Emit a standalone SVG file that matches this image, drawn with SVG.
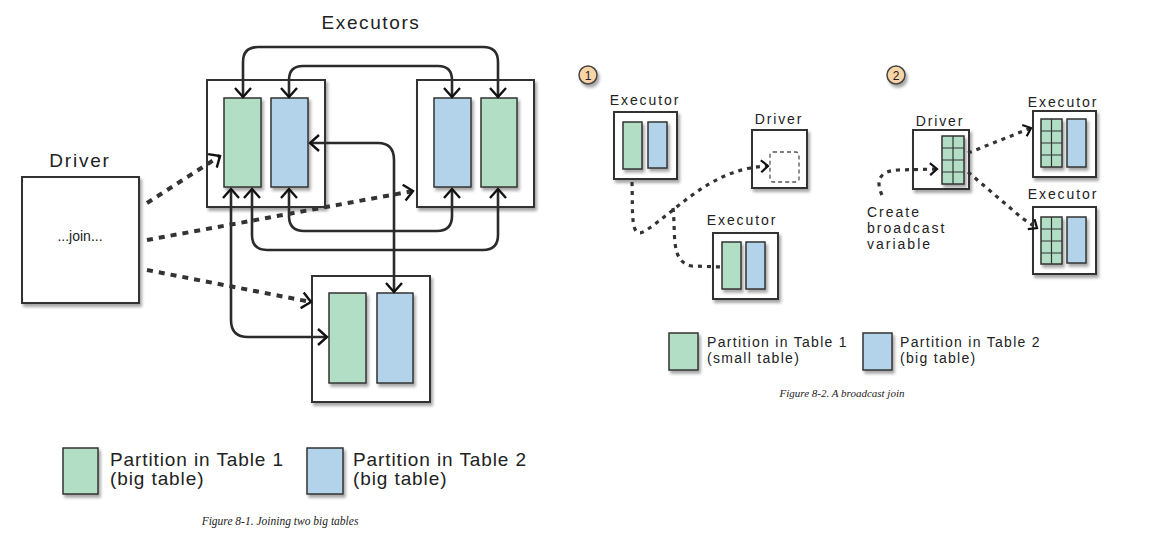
<svg xmlns="http://www.w3.org/2000/svg" width="1169" height="540" viewBox="0 0 1169 540">
<style>
  .box{fill:#fff;stroke:#333;stroke-width:2;filter:url(#sh)}
  .g{fill:#b3dec6;stroke:#333;stroke-width:1.5;filter:url(#sh)}
  .b{fill:#b2d3ea;stroke:#333;stroke-width:1.5;filter:url(#sh)}
  .gl{fill:none;stroke:#333;stroke-width:1.2}
  .sol{fill:none;stroke:#2b2b2b;stroke-width:2.6}
  .dot{fill:none;stroke:#333;stroke-width:4;stroke-dasharray:6 6}
  .dot2{fill:none;stroke:#333;stroke-width:3.2;stroke-dasharray:4 5}
  .t{font-family:"Liberation Sans","DejaVu Sans",sans-serif;fill:#222}
  .cap{font-family:"Liberation Serif",serif;font-style:italic;fill:#222}
  .num{fill:#f8d4a6;stroke:#444;stroke-width:1.5;filter:url(#sh)}
  .lab{font-size:14px;letter-spacing:1.9px}
</style>
<defs>
  <filter id="sh" x="-20%" y="-20%" width="150%" height="150%">
    <feDropShadow dx="2" dy="3" stdDeviation="1.8" flood-color="#000" flood-opacity="0.35"/>
  </filter>
  <marker id="ar" markerUnits="userSpaceOnUse" markerWidth="16" markerHeight="20" refX="10" refY="9" orient="auto-start-reverse">
    <path d="M1,1 L10,9 L1,17" fill="none" stroke="#111" stroke-width="2.4"/>
  </marker>
  <marker id="ar2" markerUnits="userSpaceOnUse" markerWidth="12" markerHeight="16" refX="8" refY="7" orient="auto">
    <path d="M1,1 L8,7 L1,13" fill="none" stroke="#111" stroke-width="2.2"/>
  </marker>
</defs>

<!-- ===== Figure 8-1 ===== -->
<text class="t" x="371" y="29" font-size="19" text-anchor="middle" letter-spacing="1.6">Executors</text>

<g id="driver1">
  <text class="t" x="80" y="167" font-size="19" text-anchor="middle" letter-spacing="1.8">Driver</text>
  <rect class="box" x="22" y="177" width="117" height="126"/>
  <text class="t" x="80" y="241" font-size="14" text-anchor="middle">...join...</text>
</g>

<g id="exec-a">
  <rect class="box" x="207" y="80" width="118" height="127"/>
  <rect class="g" x="224" y="98" width="37" height="89"/>
  <rect class="b" x="271" y="98" width="37" height="89"/>
</g>

<g id="exec-b">
  <rect class="box" x="417" y="80" width="117" height="127"/>
  <rect class="b" x="434" y="98" width="37" height="89"/>
  <rect class="g" x="481" y="98" width="36" height="89"/>
</g>

<g id="exec-c">
  <rect class="box" x="312" y="276" width="118" height="126"/>
  <rect class="g" x="329" y="293" width="37" height="90"/>
  <rect class="b" x="377" y="293" width="36" height="90"/>
</g>

<g id="connectors1">
  <path class="sol" d="M243,97 L243,62 Q243,47 258,47 L483,47 Q498,47 498,62 L498,97" marker-start="url(#ar)" marker-end="url(#ar)"/>
  <path class="sol" d="M289,97 L289,80 Q289,66 303,66 L438,66 Q452,66 452,80 L452,97" marker-start="url(#ar)" marker-end="url(#ar)"/>
  <path class="sol" d="M310,143 L378,143 Q394,143 394,160 L394,292" marker-start="url(#ar)" marker-end="url(#ar)"/>
  <path class="sol" d="M289,189 L289,216 Q289,231 304,231 L437,231 Q452,231 452,216 L452,189" marker-start="url(#ar)" marker-end="url(#ar)"/>
  <path class="sol" d="M252,189 L252,235 Q252,250 267,250 L483,250 Q498,250 498,235 L498,189" marker-start="url(#ar)" marker-end="url(#ar)"/>
  <path class="sol" d="M231,189 L231,320 Q231,337 248,337 L327,337" marker-start="url(#ar)" marker-end="url(#ar)"/>
  <path class="dot" d="M147,203 L220,156" marker-end="url(#ar)"/>
  <path class="dot" d="M147,240 L413,191" marker-end="url(#ar)"/>
  <path class="dot" d="M147,270 L311,302" marker-end="url(#ar)"/>
</g>

<g id="legend1">
  <rect class="g" x="63" y="448" width="35" height="46" stroke-width="2"/>
  <text class="t" x="110" y="466" font-size="19" letter-spacing="0.9">Partition in Table 1</text>
  <text class="t" x="110" y="485" font-size="19" letter-spacing="0.9">(big table)</text>
  <rect class="b" x="307" y="448" width="36" height="46" stroke-width="2"/>
  <text class="t" x="353" y="466" font-size="19" letter-spacing="0.9">Partition in Table 2</text>
  <text class="t" x="353" y="485" font-size="19" letter-spacing="0.9">(big table)</text>
</g>
<text class="cap" x="280" y="525" font-size="11.5" text-anchor="middle">Figure 8-1. Joining two big tables</text>

<!-- ===== Figure 8-2 ===== -->
<g id="step1">
  <circle class="num" cx="588" cy="75" r="9"/>
  <text class="t" x="588" y="80" font-size="12" text-anchor="middle">1</text>
</g>

<g id="exec1-top">
  <text class="t lab" x="645" y="105" text-anchor="middle">Executor</text>
  <rect class="box" x="614" y="112" width="63" height="67" stroke-width="1.5"/>
  <rect class="g" x="623" y="122" width="19" height="47" stroke-width="1.2"/>
  <rect class="b" x="648" y="122" width="19" height="46" stroke-width="1.2"/>
</g>

<g id="driver2">
  <text class="t lab" x="779" y="124" text-anchor="middle">Driver</text>
  <rect class="box" x="752" y="130" width="55" height="58" stroke-width="1.5"/>
  <rect x="770" y="152" width="29" height="30" rx="3" fill="#fff" stroke="#555" stroke-width="1.3" stroke-dasharray="4 3"/>
</g>

<g id="exec1-bottom">
  <text class="t lab" x="742" y="225" text-anchor="middle">Executor</text>
  <rect class="box" x="713" y="233" width="65" height="66" stroke-width="1.5"/>
  <rect class="g" x="722" y="242" width="19" height="47" stroke-width="1.2"/>
  <rect class="b" x="746" y="242" width="19" height="47" stroke-width="1.2"/>
</g>

<g id="step2">
  <circle class="num" cx="896" cy="75" r="9"/>
  <text class="t" x="896" y="80" font-size="12" text-anchor="middle">2</text>
</g>

<g id="driver3">
  <text class="t lab" x="940" y="126" text-anchor="middle">Driver</text>
  <rect class="box" x="913" y="130" width="56" height="59" stroke-width="1.5"/>
  <rect class="g" x="942" y="136" width="22" height="48" stroke-width="1.2"/>
  <path class="gl" d="M953,136 V184 M942,148 H964 M942,160 H964 M942,172 H964"/>
</g>

<g id="exec2-top">
  <text class="t lab" x="1063" y="107" text-anchor="middle">Executor</text>
  <rect class="box" x="1033" y="111" width="63" height="66" stroke-width="1.5"/>
  <rect class="g" x="1041" y="119" width="21" height="48" stroke-width="1.2"/>
  <path class="gl" d="M1051.5,119 V167 M1041,131 H1062 M1041,143 H1062 M1041,155 H1062"/>
  <rect class="b" x="1067" y="119" width="19" height="48" stroke-width="1.2"/>
</g>

<g id="exec2-bottom">
  <text class="t lab" x="1063" y="199" text-anchor="middle">Executor</text>
  <rect class="box" x="1033" y="207" width="63" height="67" stroke-width="1.5"/>
  <rect class="g" x="1041" y="217" width="21" height="47" stroke-width="1.2"/>
  <path class="gl" d="M1051.5,217 V264 M1041,229 H1062 M1041,241 H1062 M1041,253 H1062"/>
  <rect class="b" x="1067" y="217" width="19" height="46" stroke-width="1.2"/>
</g>

<text class="t" font-size="14" letter-spacing="2"><tspan x="867" y="217">Create</tspan><tspan x="867" y="233">broadcast</tspan><tspan x="867" y="249">variable</tspan></text>

<g id="connectors2">
  <path class="dot2" d="M632,182 C633,215 630,240 645,231 C680,208 712,168 768,166" marker-end="url(#ar2)"/>
  <path class="dot2" d="M673,208 C676,235 670,262 692,266 L721,267"/>
  <path class="dot2" d="M882,195 C875,180 880,171 898,170 L937,169" marker-end="url(#ar2)"/>
  <path class="dot2" d="M968,153 L1031,128" marker-end="url(#ar2)"/>
  <path class="dot2" d="M968,172 L1022,218 L1037,228" marker-end="url(#ar2)"/>
</g>

<g id="legend2">
  <rect class="g" x="669" y="333" width="29" height="37" stroke-width="2"/>
  <text class="t" x="707" y="347" font-size="14" letter-spacing="1.3">Partition in Table 1</text>
  <text class="t" x="707" y="363" font-size="14" letter-spacing="1.3">(small table)</text>
  <rect class="b" x="863" y="333" width="29" height="37" stroke-width="2"/>
  <text class="t" x="900" y="347" font-size="14" letter-spacing="1.3">Partition in Table 2</text>
  <text class="t" x="900" y="363" font-size="14" letter-spacing="1.3">(big table)</text>
</g>
<text class="cap" x="842" y="397" font-size="11" text-anchor="middle">Figure 8-2. A broadcast join</text>
</svg>
